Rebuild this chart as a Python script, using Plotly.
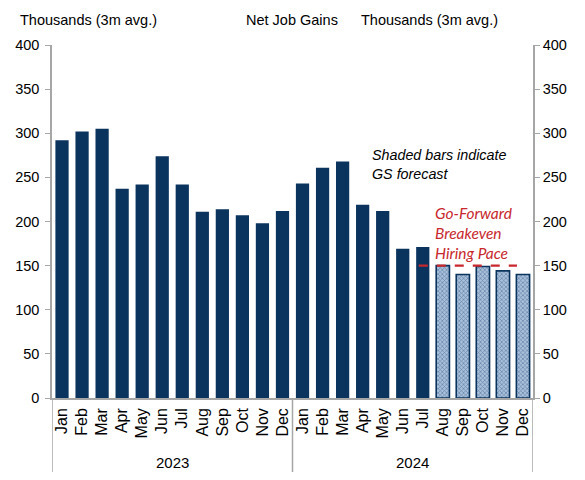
import plotly.graph_objects as go

months = ["Jan", "Feb", "Mar", "Apr", "May", "Jun", "Jul", "Aug", "Sep", "Oct", "Nov", "Dec"]
years = ["2023", "2024"]
actual_2023 = [292, 302, 305, 237, 242, 274, 242, 211, 214, 207, 198, 212]
actual_2024 = [243, 261, 268, 219, 212, 169, 171]
forecast_2024 = [150, 140, 149, 144, 140]
breakeven = 150
y_ticks = [0, 50, 100, 150, 200, 250, 300, 350, 400]

labels = months + months
n_act = len(actual_2023) + len(actual_2024)
x_act = list(range(n_act))
x_fc = list(range(n_act, n_act + len(forecast_2024)))
x_all = list(range(len(labels)))

navy = "#0a335e"
font = "Liberation Sans, Arial, sans-serif"

# page body has an 8px margin, so figure is sized/offset accordingly
W, H = 577, 472
L, R, T, B = 44, 52, 37, 82
PW = W - L - R
PH = H - T - B

fig = go.Figure()
fig.add_trace(go.Bar(
    x=x_act, y=actual_2023 + actual_2024,
    marker=dict(color=navy, line=dict(width=0)),
    showlegend=False,
))
fig.add_trace(go.Bar(
    x=x_fc, y=forecast_2024,
    marker=dict(color="#7f9cc0", line=dict(color=navy, width=1.6),
                pattern=dict(shape="x", fgcolor="#1e4675", bgcolor="#a9c0db",
                             size=3, solidity=0.4)),
    showlegend=False,
))
# mirror trace for right axis
fig.add_trace(go.Scatter(
    x=x_all, y=actual_2023 + actual_2024 + forecast_2024, yaxis="y2",
    mode="markers", marker=dict(opacity=0), hoverinfo="skip", showlegend=False,
))
# breakeven line
fig.add_trace(go.Scatter(
    x=[17.8, 22.7], y=[breakeven, breakeven], mode="lines",
    line=dict(color="#c8282d", width=2.2, dash="dash"),
    hoverinfo="skip", showlegend=False,
))

axis_color = "#a6a6a6"
fig.update_layout(
    width=W, height=H,
    margin=dict(l=L, r=R, t=T, b=B, autoexpand=False),
    paper_bgcolor="white", plot_bgcolor="white",
    bargap=0.34,
    font=dict(family=font, size=15, color="black"),
    xaxis=dict(
        range=[-0.5, len(labels) - 0.5],
        tickmode="array", tickvals=x_all, ticktext=labels,
        tickangle=-90, ticks="", showgrid=False, zeroline=False,
        showline=True, linecolor=axis_color, linewidth=1.5,
        ticklabelstandoff=2,
        tickfont=dict(size=16, family=font),
    ),
    yaxis=dict(
        range=[0, 400], tickvals=y_ticks, showgrid=False, zeroline=False,
        showline=True, linecolor=axis_color, linewidth=1.5,
        ticks="outside", ticklen=5, tickcolor=axis_color,
        ticklabelstandoff=3,
        tickfont=dict(size=14.5, family=font),
    ),
    yaxis2=dict(
        range=[0, 400], tickvals=y_ticks, overlaying="y", side="right",
        showgrid=False, zeroline=False,
        showline=True, linecolor=axis_color, linewidth=1.5,
        ticks="outside", ticklen=5, tickcolor=axis_color,
        tickfont=dict(size=14.5, family=font),
    ),
)

# year dividers and labels
for xv in [-0.5, 11.5, 23.5]:
    fig.add_shape(type="line", xref="x", yref="paper", x0=xv, x1=xv, y0=0, y1=-74 / PH,
                  line=dict(color=axis_color, width=1.5))
for i, yr in enumerate(years):
    fig.add_annotation(x=5.5 + 12 * i, y=-64 / PH, xref="x", yref="paper", text=yr,
                       showarrow=False, font=dict(size=15, family=font), yanchor="middle")

# headers (page coords: subtract 8px body margin)
header_y = 1 + (45 - 20) / PH
fig.add_annotation(x=(18 - 52) / PW, y=header_y, xref="paper", yref="paper",
                   text="Thousands (3m avg.)", showarrow=False, xanchor="left",
                   yanchor="middle", font=dict(size=14.5, family=font))
fig.add_annotation(x=(292 - 52) / PW, y=header_y, xref="paper", yref="paper",
                   text="Net Job Gains", showarrow=False, xanchor="center",
                   yanchor="middle", font=dict(size=14.5, family=font))
fig.add_annotation(x=(500 - 52) / PW, y=header_y, xref="paper", yref="paper",
                   text="Thousands (3m avg.)", showarrow=False, xanchor="right",
                   yanchor="middle", font=dict(size=14.5, family=font))

# notes
fig.add_annotation(x=15.35, y=265, xref="x", yref="y",
                   text="<i>Shaded bars indicate<br>GS forecast</i>", showarrow=False,
                   xanchor="left", yanchor="middle", align="left",
                   font=dict(size=14.3, family=font, color="black"))
fig.add_annotation(x=18.5, y=187, xref="x", yref="y",
                   text="<i>Go-Forward<br>Breakeven<br>Hiring Pace</i>", showarrow=False,
                   xanchor="left", yanchor="middle", align="left",
                   font=dict(size=15.5, family="Lato, sans-serif", color="#c8282d"))

fig.write_html("out.html")
